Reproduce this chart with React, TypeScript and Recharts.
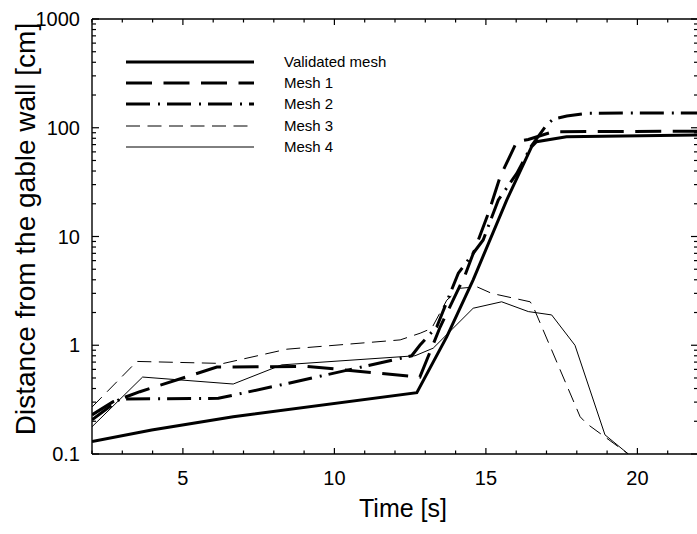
import React from 'react';
import { LineChart, Line, XAxis, YAxis, Legend } from 'recharts';

// ---- data (time [s], distance [cm]) ----
const validatedX = [2, 3.97, 6.66, 12.72, 13.71, 14.58, 15.69, 16.51, 16.67, 17.66, 22];
const validatedY = [0.13, 0.166, 0.22, 0.366, 1.2, 4.0, 21.7, 67, 74.5, 82.8, 85.7];

const mesh1X = [2, 2.7, 3.58, 6.12, 9.09, 12.82, 13.49, 14.31, 15.08, 15.47, 16.02, 16.4, 17.22, 22];
const mesh1Y = [0.229, 0.303, 0.374, 0.63, 0.64, 0.51, 1.47, 4.4, 16.3, 35.5, 74.5, 78, 92, 93];

const mesh2X = [2, 2.92, 6.17, 8.53, 12.55, 12.82, 13.38, 14.09, 14.91, 15.41, 16.02, 16.5, 16.79, 17.0, 17.22, 17.67, 18.33, 22];
const mesh2Y = [0.206, 0.32, 0.325, 0.45, 0.8, 1.0, 1.48, 4.6, 9.3, 21.7, 38, 68, 88, 106, 120, 128, 136, 137];

const mesh3X = [2, 3.48, 6.33, 8.43, 12.17, 12.83, 13.21, 13.71, 14.15, 14.7, 15.19, 16.46, 16.55, 18.11, 18.33, 19.7];
const mesh3Y = [0.27, 0.71, 0.68, 0.92, 1.12, 1.29, 1.43, 2.6, 3.34, 3.45, 3.0, 2.51, 2.3, 0.22, 0.19, 0.1];

const mesh4X = [2, 3.67, 6.66, 8.26, 12.66, 13.26, 14.58, 15.52, 16.4, 17.17, 17.94, 18.93, 19.7];
const mesh4Y = [0.178, 0.51, 0.44, 0.66, 0.8, 0.94, 2.19, 2.51, 2.04, 1.9, 1.0, 0.15, 0.1];

const seriesNames = ['Validated mesh', 'Mesh 1', 'Mesh 2', 'Mesh 3', 'Mesh 4'];

const xTicks = [2, 3, 4, 5, 6, 7, 8, 9, 10, 11, 12, 13, 14, 15, 16, 17, 18, 19, 20, 21, 22];
const xLabelTicks = [5, 10, 15, 20];
const yTicks = [
  0.1, 0.2, 0.3, 0.4, 0.5, 0.6, 0.7, 0.8, 0.9,
  1, 2, 3, 4, 5, 6, 7, 8, 9,
  10, 20, 30, 40, 50, 60, 70, 80, 90,
  100, 200, 300, 400, 500, 600, 700, 800, 900, 1000,
];
const yLabelTicks = [0.1, 1, 10, 100, 1000];

const toPoints = (xs: number[], ys: number[]) => xs.map((x, i) => ({ x, y: ys[i] }));

const validatedData = toPoints(validatedX, validatedY);
const mesh1Data = toPoints(mesh1X, mesh1Y);
const mesh2Data = toPoints(mesh2X, mesh2Y);
const mesh3Data = toPoints(mesh3X, mesh3Y);
const mesh4Data = toPoints(mesh4X, mesh4Y);

// ---- styles ----
const FONT = '"Liberation Sans", Arial, Helvetica, sans-serif';
const styles = [
  { width: 3, dash: undefined as string | undefined, color: '#000' },
  { width: 3, dash: '26 11.5', color: '#000' },
  { width: 3, dash: '24 8 2 7', color: '#000' },
  { width: 1, dash: '14 7.5', color: '#000' },
  { width: 1, dash: undefined as string | undefined, color: '#000' },
];

const isMajorLog = (v: number) => Math.abs(Math.log10(v) - Math.round(Math.log10(v))) < 1e-6;

const BottomTick = (props: any) => {
  const { x, y, payload } = props;
  const v = payload.value;
  const major = v % 5 === 0;
  return (
    <g>
      <line x1={x} x2={x} y1={y} y2={y - (major ? 6 : 3.5)} stroke="#000" strokeWidth={1.2} />
      {xLabelTicks.includes(v) && (
        <text x={x} y={y + 31} textAnchor="middle" fontSize={20} fontFamily={FONT} fill="#000">
          {v}
        </text>
      )}
    </g>
  );
};

const TopTick = (props: any) => {
  const { x, y, payload } = props;
  const major = payload.value % 5 === 0;
  return <line x1={x} x2={x} y1={y} y2={y + (major ? 6 : 3.5)} stroke="#000" strokeWidth={1.2} />;
};

const LeftTick = (props: any) => {
  const { x, y, payload } = props;
  const v = payload.value;
  const major = isMajorLog(v);
  return (
    <g>
      <line x1={x} x2={x + (major ? 7 : 4)} y1={y} y2={y} stroke="#000" strokeWidth={1.2} />
      {yLabelTicks.some((t) => Math.abs(t - v) < 1e-9) && (
        <text x={x - 12} y={y} dy="0.36em" textAnchor="end" fontSize={20} fontFamily={FONT} fill="#000">
          {String(v)}
        </text>
      )}
    </g>
  );
};

const RightTick = (props: any) => {
  const { x, y, payload } = props;
  const major = isMajorLog(payload.value);
  return <line x1={x} x2={x - (major ? 7 : 4)} y1={y} y2={y} stroke="#000" strokeWidth={1.2} />;
};

const legendRowsY = [62, 83, 104, 126, 147];

const LegendContent = () => (
  <svg width={420} height={170} style={{ display: 'block' }}>
    {seriesNames.map((name, i) => (
      <g key={name}>
        <line
          x1={126}
          x2={254}
          y1={legendRowsY[i]}
          y2={legendRowsY[i]}
          stroke={styles[i].color}
          strokeWidth={styles[i].width}
          strokeDasharray={styles[i].dash}
        />
        <text x={284} y={legendRowsY[i]} dy="0.36em" fontSize={15} fontFamily={FONT} fill="#000">
          {name}
        </text>
      </g>
    ))}
  </svg>
);

const seriesData = [validatedData, mesh1Data, mesh2Data, mesh3Data, mesh4Data];

export default function App() {
  return (
    <div style={{ position: 'absolute', left: 0, top: 0, width: 697, height: 534, overflow: 'hidden', background: '#fff' }}>
      <LineChart width={720} height={534} margin={{ top: 18, right: 21, left: 0, bottom: 0 }}>
        <XAxis
          dataKey="x"
          type="number"
          domain={[2, 22]}
          ticks={xTicks}
          allowDataOverflow
          height={80}
          tickSize={0}
          tickMargin={0}
          tickLine={false}
          interval={0}
          axisLine={{ stroke: '#000', strokeWidth: 1.4 }}
          tick={<BottomTick />}
          label={{
            content: () => (
              <text x={403} y={517} textAnchor="middle" fontSize={25} fontFamily={FONT} fill="#000">
                Time [s]
              </text>
            ),
          }}
        />
        <XAxis
          xAxisId="top"
          orientation="top"
          dataKey="x"
          type="number"
          domain={[2, 22]}
          ticks={xTicks}
          allowDataOverflow
          height={1}
          tickSize={0}
          tickMargin={0}
          tickLine={false}
          interval={0}
          axisLine={{ stroke: '#000', strokeWidth: 1.4 }}
          tick={<TopTick />}
        />
        <YAxis
          scale="log"
          type="number"
          domain={[0.1, 1000]}
          ticks={yTicks}
          allowDataOverflow
          width={92}
          tickSize={0}
          tickMargin={0}
          tickLine={false}
          interval={0}
          axisLine={{ stroke: '#000', strokeWidth: 1.4 }}
          tick={<LeftTick />}
          label={{
            content: () => (
              <text
                transform="translate(25,229) rotate(-90)"
                textAnchor="middle"
                dominantBaseline="central"
                fontSize={28}
                fontFamily={FONT}
                fill="#000"
              >
                Distance from the gable wall [cm]
              </text>
            ),
          }}
        />
        <YAxis
          yAxisId="right"
          orientation="right"
          scale="log"
          type="number"
          domain={[0.1, 1000]}
          ticks={yTicks}
          allowDataOverflow
          width={1}
          tickSize={0}
          tickMargin={0}
          tickLine={false}
          interval={0}
          axisLine={{ stroke: '#000', strokeWidth: 1.4 }}
          tick={<RightTick />}
        />
        <Legend
          layout="horizontal"
          verticalAlign="middle"
          align="center"
          content={<LegendContent />}
          wrapperStyle={{ left: 0, top: 0, width: 420, height: 170 }}
        />
        <Line
          data={validatedData}
          xAxisId="top"
          yAxisId="right"
          dataKey="y"
          stroke="none"
          dot={false}
          isAnimationActive={false}
          legendType="none"
        />
        {seriesData.map((d, i) => (
          <Line
            key={seriesNames[i]}
            name={seriesNames[i]}
            data={d}
            dataKey="y"
            type="linear"
            stroke={styles[i].color}
            strokeWidth={styles[i].width}
            strokeDasharray={styles[i].dash}
            dot={false}
            activeDot={false}
            isAnimationActive={false}
          />
        ))}
      </LineChart>
    </div>
  );
}
